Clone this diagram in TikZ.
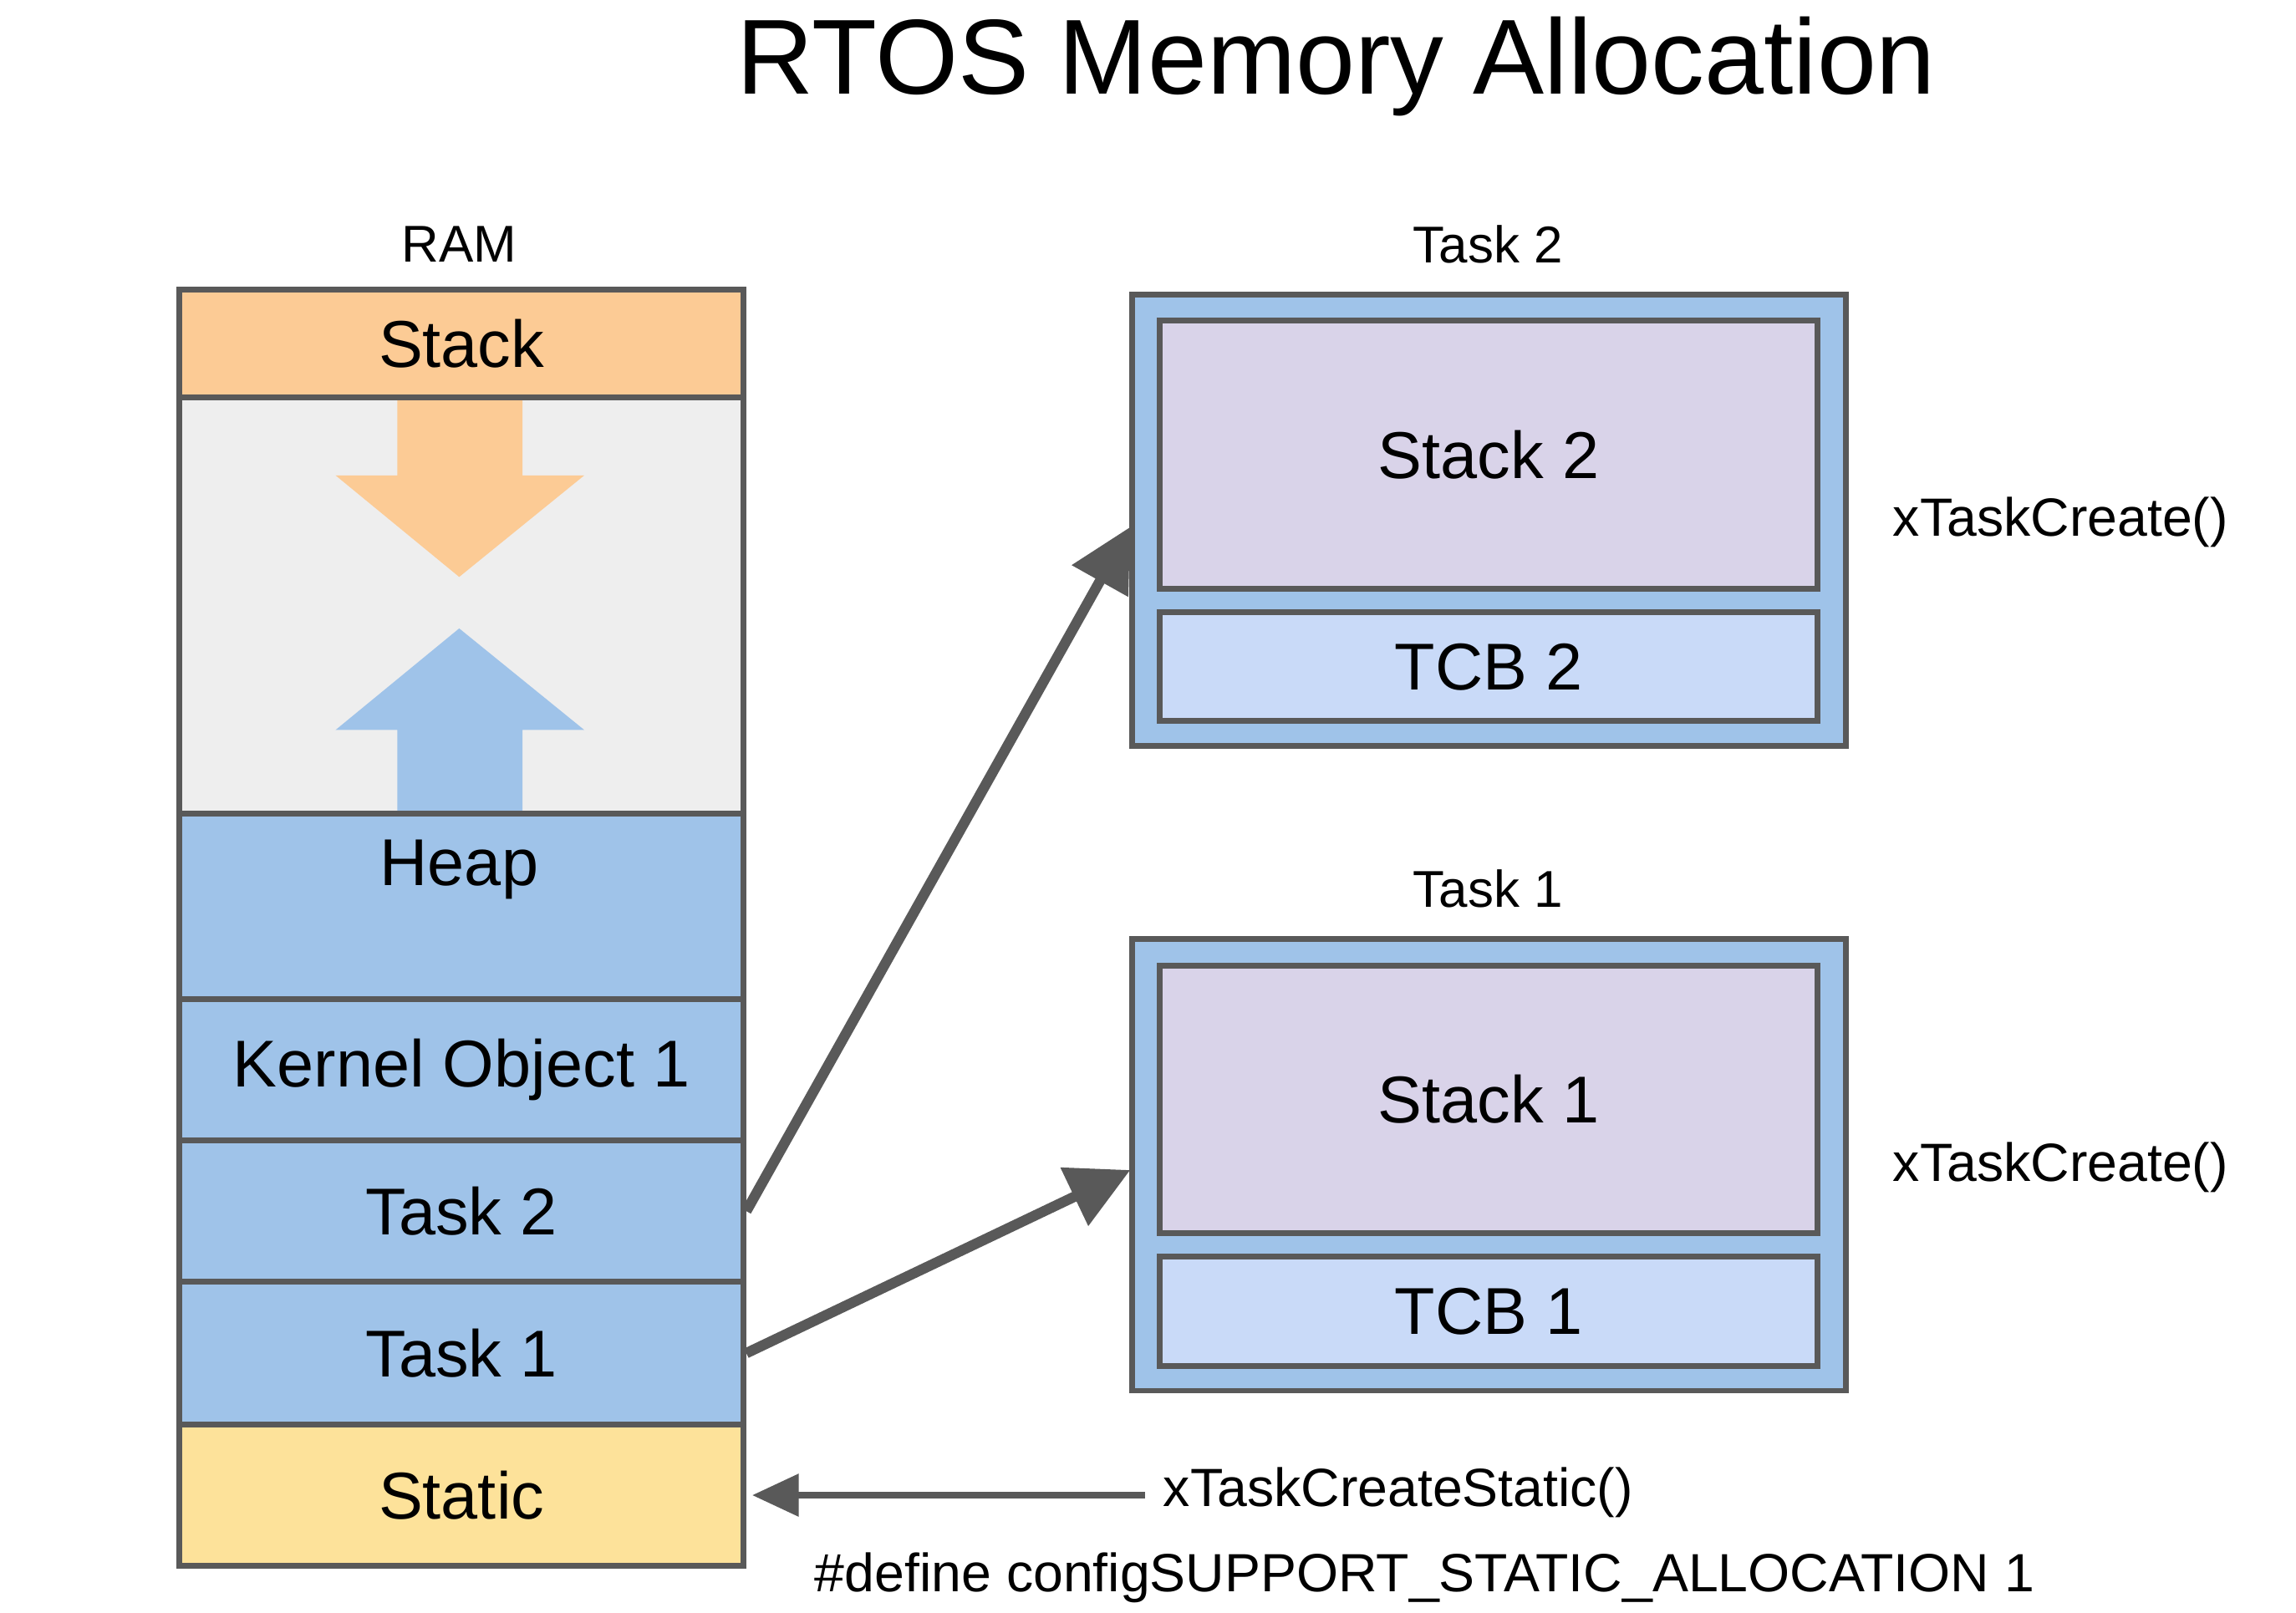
\documentclass[tikz,border=0pt]{standalone}
\usepackage{fontspec}
\setmainfont{Liberation Sans}
\usetikzlibrary{arrows.meta}
\definecolor{edge}{HTML}{595959}
\definecolor{stackc}{HTML}{FCCB95}
\definecolor{freec}{HTML}{EEEEEE}
\definecolor{heapc}{HTML}{9FC3E9}
\definecolor{staticc}{HTML}{FDE29A}
\definecolor{stkc}{HTML}{D9D3E9}
\definecolor{tcbc}{HTML}{C9DAF8}
\tikzset{
  blk/.style={draw=edge,line width=1.1pt,inner sep=0pt,font=\fontsize{12.8}{15}\selectfont},
  ramblk/.style={blk,minimum width=3.83cm,minimum height=#1,anchor=north west},
  lbl/.style={font=\fontsize{10}{12}\selectfont},
  call/.style={font=\fontsize{10.4}{12.5}\selectfont},
  link/.style={draw=edge,line width=2pt,-{Triangle[length=12pt,width=12pt]}}
}
\begin{document}
\begin{tikzpicture}[x=0.01cm,y=-0.01cm]
\useasboundingbox (0,0) rectangle (1560,1096);
\node[font=\fontsize{20.6}{24}\selectfont] (title) at (908,45) {RTOS Memory Allocation};

% RAM column
\node[lbl] (ram) at (312,166) {RAM};
\node[ramblk=2.83cm,fill=freec] (free) at (120,268) {};
\fill[stackc] (270,266) -- (355,266) -- (355,323) -- (397,323) -- (312,392) -- (228,323) -- (270,323) -- cycle;
\fill[heapc] (270,553) -- (355,553) -- (355,496) -- (397,496) -- (312,427) -- (228,496) -- (270,496) -- cycle;
\node[ramblk=0.73cm,fill=stackc] (stack) at (120,195) {Stack};
\node[ramblk=1.26cm,fill=heapc] (heapblk) at (120,551) {};
\node[font=\fontsize{12.8}{15}\selectfont] (heap) at (312,591) {Heap};
\node[ramblk=0.96cm,fill=heapc] (kobj) at (120,677) {Kernel Object 1};
\node[ramblk=0.96cm,fill=heapc] (ramt2) at (120,773) {Task 2};
\node[ramblk=0.97cm,fill=heapc] (ramt1) at (120,869) {Task 1};
\node[ramblk=0.96cm,fill=staticc] (static) at (120,966) {Static};

% task control blocks
\foreach \n/\t in {2/200,1/638} {
  \node[lbl] (tl\n) at (1011,\t-34) {Task \n};
  \draw[blk,fill=heapc] (769,\t) rectangle (1254,\t+307);
  \draw[blk,fill=stkc] (788,\t+18) rectangle (1235,\t+200) node[midway] (stk\n) {Stack \n};
  \draw[blk,fill=tcbc] (788,\t+216) rectangle (1235,\t+290) node[midway] (tcb\n) {TCB \n};
  \node[call] (cr\n) at (1400,\t+155) {xTaskCreate()};
}
\coordinate (in2) at (768,358);
\coordinate (in1) at (768,795);
\draw[link] (ramt2.east) -- (in2);
\draw[link] (ramt1.east) -- (in1);

\node[call,anchor=west] (cs) at (778,1014) {xTaskCreateStatic()};
\draw[draw=edge,line width=1.3pt,-{Triangle[length=9pt,width=8pt]}] (cs.west |- static.east) -- ([xshift=0.04cm]static.east);
\node[call] (def) at (968,1072) {\#define configSUPPORT\_STATIC\_ALLOCATION 1};
\end{tikzpicture}
\end{document}
